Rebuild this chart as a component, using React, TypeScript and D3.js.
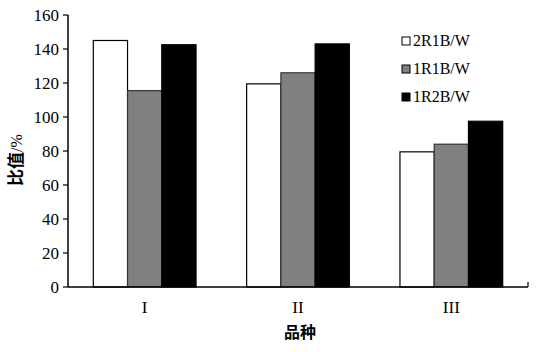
import React from "react";
import * as d3 from "d3";

const categories = ["I", "II", "III"];
const seriesNames = ["2R1B/W", "1R1B/W", "1R2B/W"];
const seriesColors = ["#ffffff", "#808080", "#000000"];
const values2R1B = [145, 119.5, 79.5];
const values1R1B = [115.5, 126, 84];
const values1R2B = [142.5, 143, 97.5];
const yTicks = [0, 20, 40, 60, 80, 100, 120, 140, 160];

const W = 541;
const H = 352;
const margin = { top: 15, right: 13, bottom: 65, left: 68 };

export default function App() {
  const innerW = W - margin.left - margin.right;
  const innerH = H - margin.top - margin.bottom;
  const seriesValues = [values2R1B, values1R1B, values1R2B];

  const x0 = d3.scaleBand<string>().domain(categories).range([0, innerW]).paddingInner(0.33).paddingOuter(0.165);
  const x1 = d3.scaleBand<string>().domain(seriesNames).range([0, x0.bandwidth()]);
  const y = d3.scaleLinear().domain([0, 160]).range([innerH, 0]);

  const serif = { fontFamily: "Liberation Serif, DejaVu Serif, serif" };
  const cjk = { fontFamily: "Noto Sans CJK SC, sans-serif" };

  return (
    <svg width={W} height={H} style={{ position: "absolute", left: 0, top: 0, background: "#fff" }}>
      <g transform={`translate(${margin.left},${margin.top})`}>
        {categories.map((c, i) =>
          seriesNames.map((s, j) => {
            const v = seriesValues[j][i];
            return (
              <rect
                key={c + s}
                x={(x0(c) ?? 0) + (x1(s) ?? 0)}
                y={y(v)}
                width={x1.bandwidth()}
                height={innerH - y(v)}
                fill={seriesColors[j]}
                stroke={j === 1 ? "#333" : "#000"}
                strokeWidth={1.2}
              />
            );
          })
        )}
        {/* y axis */}
        <line x1={0} x2={0} y1={0} y2={innerH} stroke="#000" strokeWidth={1.5} />
        {yTicks.map((t) => (
          <g key={t} transform={`translate(0,${y(t)})`}>
            <line x1={-5} x2={0} stroke="#000" strokeWidth={1.2} />
            <text x={-9} dy="0.34em" textAnchor="end" style={serif} fontSize={17}>
              {t}
            </text>
          </g>
        ))}
        {/* x axis */}
        <line x1={0} x2={innerW} y1={innerH} y2={innerH} stroke="#000" strokeWidth={1.5} />
        <line x1={innerW} x2={innerW} y1={innerH} y2={innerH - 5} stroke="#000" strokeWidth={1.2} />
        {categories.map((c) => (
          <text
            key={c}
            x={(x0(c) ?? 0) + x0.bandwidth() / 2}
            y={innerH + 26}
            textAnchor="middle"
            style={serif}
            fontSize={17}
          >
            {c}
          </text>
        ))}
        {/* legend */}
        {seriesNames.map((s, j) => (
          <g key={s} transform={`translate(334,${26 + j * 28})`}>
            <rect x={0} y={-4} width={8} height={8} fill={seriesColors[j]} stroke="#000" strokeWidth={1} />
            <text x={11} dy="0.34em" style={serif} fontSize={16}>
              {s}
            </text>
          </g>
        ))}
      </g>
      {/* axis titles */}
      <text
        transform={`translate(22,160) rotate(-90)`}
        textAnchor="middle"
        style={cjk}
        fontWeight="bold"
        fontSize={17}
      >
        比值<tspan style={serif} fontWeight="normal" fontSize={16}>/%</tspan>
      </text>
      <text x={300} y={338} textAnchor="middle" style={cjk} fontWeight="bold" fontSize={16}>
        品种
      </text>
    </svg>
  );
}
